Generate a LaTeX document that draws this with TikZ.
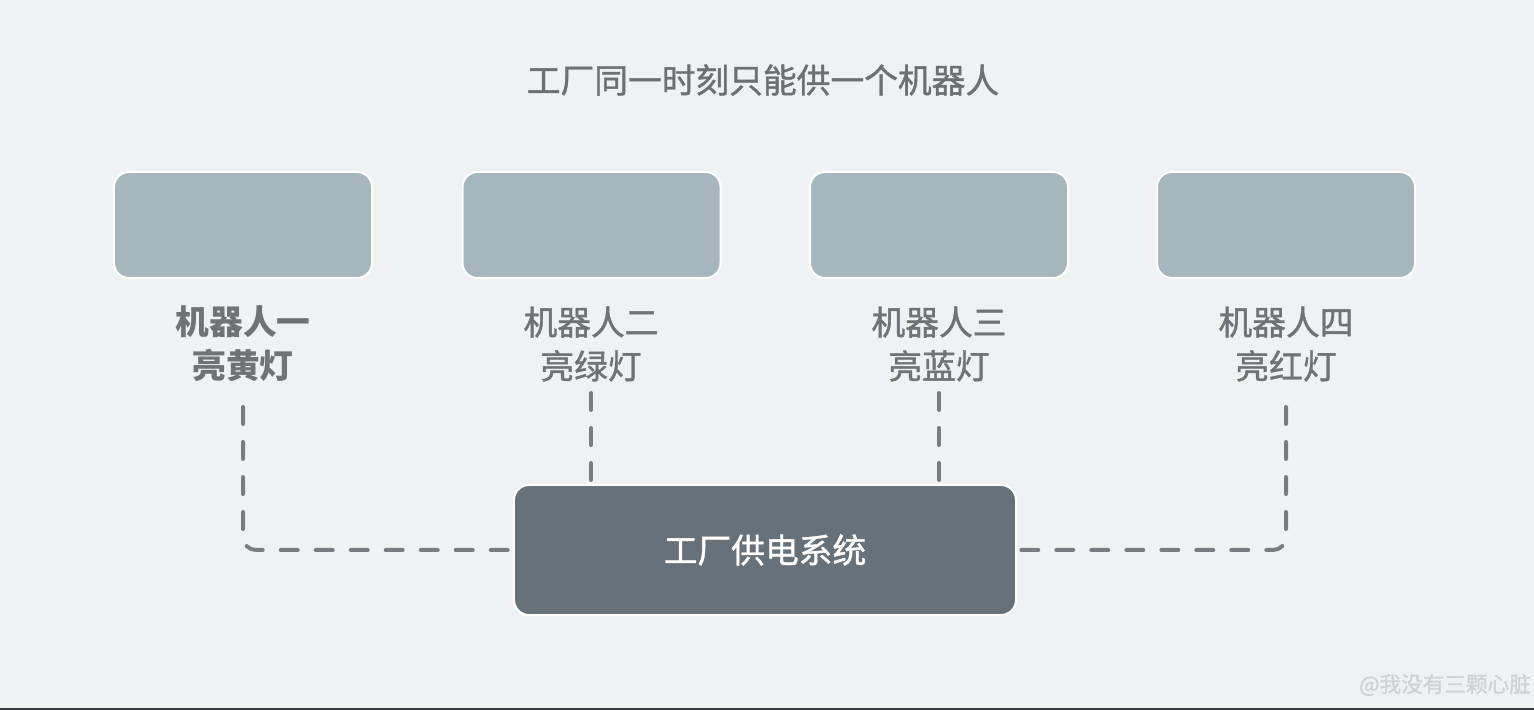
\documentclass[tikz,border=0pt]{standalone}
\usepackage{fontspec}
\newfontfamily\cjk{Noto Sans CJK SC}
\newfontfamily\cjkm[FakeBold=1.2]{Noto Sans CJK SC}
\definecolor{bgc}{HTML}{F0F1F3}
\definecolor{edgec}{HTML}{3A3D42}
\definecolor{robotfill}{HTML}{A6B6BD}
\definecolor{powerfill}{HTML}{67717A}
\definecolor{connc}{HTML}{7B7C81}
\definecolor{titlec}{HTML}{6D6F73}
\definecolor{lblc}{HTML}{707276}
\definecolor{wmc}{HTML}{CFD1D5}
\tikzset{
  robot/.style={draw=white, line width=0.4mm, fill=robotfill, rounded corners=3mm,
    minimum width=51.6mm, minimum height=21.2mm, inner sep=0pt},
  power/.style={draw=white, line width=0.4mm, fill=powerfill, rounded corners=3mm,
    minimum width=100.4mm, minimum height=26mm, inner sep=0pt, text=white,
    font=\cjkm\fontsize{19.2}{25}\selectfont},
  lbl/.style={align=center, text=lblc, inner sep=0pt,
    font=\cjkm\fontsize{19.2}{25}\selectfont},
  conn/.style={draw=connc, line width=0.8mm, line cap=round,
    dash pattern=on 3.4mm off 3.6mm},
}
\begin{document}
\begin{tikzpicture}[x=0.2mm,y=-0.2mm]
\fill[bgc] (0,0) rectangle (1534,710);
\fill[edgec] (0,707.5) rectangle (1534,710);
\useasboundingbox (0,0) rectangle (1534,710);

\node[text=titlec, inner sep=0pt, font=\cjkm\fontsize{19.2}{25}\selectfont] (title) at (763,80) {工厂同一时刻只能供一个机器人};

\node[robot] (r1) at (243,225) {};
\node[robot] (r2) at (591.5,225) {};
\node[robot] (r3) at (939,225) {};
\node[robot] (r4) at (1286,225) {};

\node[lbl, font=\cjk\bfseries\fontsize{19.2}{25}\selectfont] (l1) at (243,344) {机器人一\\亮黄灯};
\node[lbl] (l2) at (591,344) {机器人二\\亮绿灯};
\node[lbl] (l3) at (939,344) {机器人三\\亮蓝灯};
\node[lbl] (l4) at (1286,344) {机器人四\\亮红灯};

\coordinate (c1) at (243,407);
\coordinate (c2) at (591,393);
\coordinate (c3) at (939,393);
\coordinate (c4) at (1286,407);
\coordinate (pw) at (514,550);
\coordinate (pe) at (1016,550);
\coordinate (pn2) at (591,485);
\coordinate (pn3) at (939,485);

\draw[conn, rounded corners=2.6mm] (c1) |- (pw);
\draw[conn] (c2) -- (pn2);
\draw[conn] (c3) -- (pn3);
\draw[conn, rounded corners=2.6mm] (c4) |- (pe);

\node[power] (p) at (765,550) {工厂供电系统};

\node[text=wmc, inner sep=0pt, font=\cjkm\fontsize{12.3}{15}\selectfont] (wm) at (1445,685) {@我没有三颗心脏};
\end{tikzpicture}
\end{document}
